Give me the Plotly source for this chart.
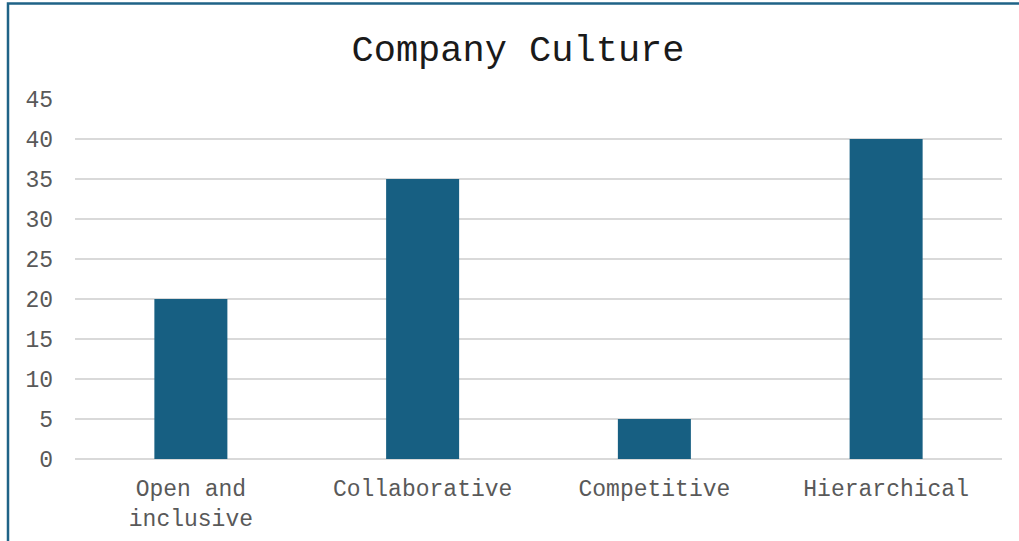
import plotly.graph_objects as go

categories = ["Open and<br>inclusive", "Collaborative", "Competitive", "Hierarchical"]
values = [20, 35, 5, 40]
y_ticks = [0, 5, 10, 15, 20, 25, 30, 35, 40, 45]

BAR = "#175F82"
GRID = "#D9D9D9"
TEXT = "#595959"
FONT = "Liberation Mono, Courier New, monospace"

fig = go.Figure(go.Bar(x=categories, y=values, marker_color=BAR, marker_line_width=0))

# plot area in pixels: left 75, right 1002, top 99, bottom 459
L, R, T, B = 75, 1002, 99, 459
W, H = 1019, 541
pw, ph = R - L, B - T

fig.update_layout(
    width=W, height=H,
    margin=dict(l=L, r=W - R, t=T, b=H - B, autoexpand=False),
    paper_bgcolor="white", plot_bgcolor="white",
    bargap=0.685,
    showlegend=False,
    title=dict(text="Company Culture", x=518 / W, xref="container", xanchor="center",
               y=1 - 48 / H, yref="container", yanchor="middle",
               font=dict(family=FONT, size=37, color="#1a1a1a")),
    font=dict(family=FONT, size=23, color=TEXT),
    xaxis=dict(showgrid=False, showline=False, ticks="", ticklabelstandoff=13, automargin=False),
    yaxis=dict(range=[0, 45], tickvals=y_ticks, showgrid=True, gridcolor=GRID, gridwidth=2,
               zeroline=True, zerolinecolor=GRID, zerolinewidth=2, showline=False, ticks="",
               ticklabelstandoff=21, automargin=False),
    shapes=[dict(type="rect", xref="paper", yref="paper",
                 x0=(8 - L) / pw, x1=(1040 - L) / pw,
                 y0=(B - 570) / ph, y1=(B - 3.5) / ph,
                 line=dict(color="#1F6387", width=2.5), fillcolor="rgba(0,0,0,0)", layer="below")],
)

# drop the browser's default 8px body margin so the figure sits at the page corner
fig.write_html("out.html", config={"displayModeBar": False},
               post_script="document.body.style.margin='0';")
